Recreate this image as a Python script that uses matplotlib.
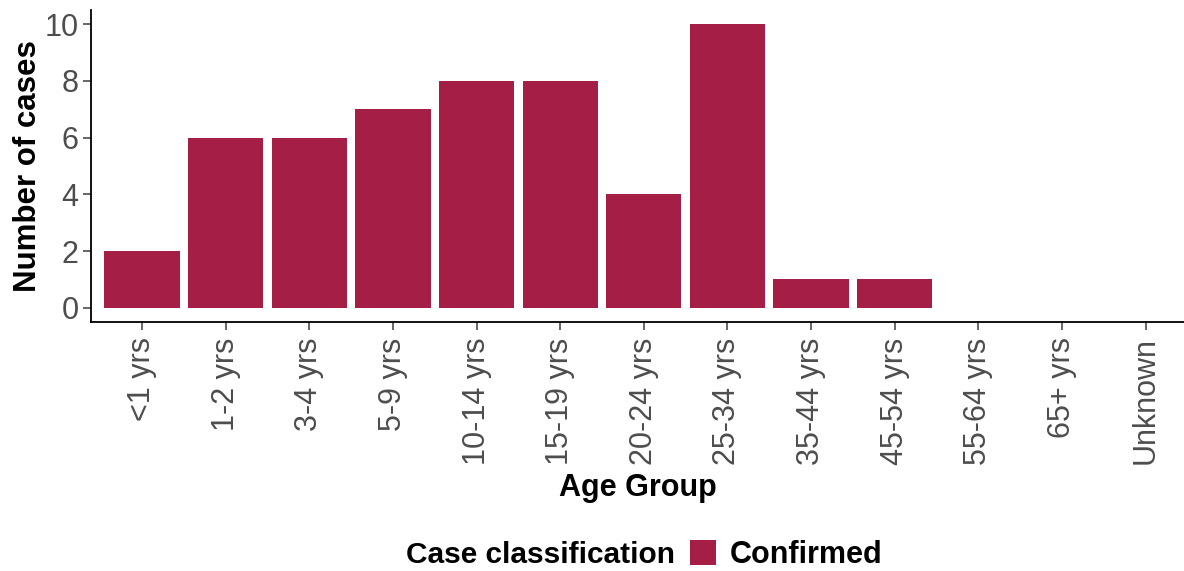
import matplotlib.pyplot as plt
from matplotlib.patches import Patch

plt.rcParams['font.family'] = ['Liberation Sans', 'DejaVu Sans']

age_groups = ['<1 yrs', '1-2 yrs', '3-4 yrs', '5-9 yrs', '10-14 yrs', '15-19 yrs',
              '20-24 yrs', '25-34 yrs', '35-44 yrs', '45-54 yrs', '55-64 yrs',
              '65+ yrs', 'Unknown']
cases = [2, 6, 6, 7, 8, 8, 4, 10, 1, 1, 0, 0, 0]
yticks = [0, 2, 4, 6, 8, 10]

bar_color = '#A51E45'
tick_color = '#4D4D4D'

fig = plt.figure(figsize=(11.84, 5.71), dpi=100)
ax = fig.add_axes([91 / 1184, 1 - 322 / 571, 1 - 91 / 1184, 312 / 571])

x = list(range(len(age_groups)))
ax.bar(x, cases, width=0.9, color=bar_color, linewidth=0)

ax.set_xlim(-0.61, 12.46)
ax.set_ylim(-0.5, 10.5)
ax.set_xticks(x)
ax.set_xticklabels(age_groups, rotation=90, va='top', ha='center')
ax.set_yticks(yticks)

for side in ['top', 'right']:
    ax.spines[side].set_visible(False)
for side in ['left', 'bottom']:
    ax.spines[side].set_linewidth(1.3)
    ax.spines[side].set_color('black')

ax.tick_params(axis='both', colors=tick_color, labelsize=22, length=6, width=1.2, pad=3)
ax.tick_params(axis='x', pad=5)

ax.set_ylabel('Number of cases', fontsize=22.5, fontweight='bold', labelpad=1)
ax.set_xlabel('Age Group', fontsize=22, fontweight='bold', labelpad=6)

fig.text(675 / 1184, 1 - 555 / 571, 'Case classification', fontsize=21.5,
         fontweight='bold', ha='right', va='center')
handles = [Patch(facecolor=bar_color, edgecolor='none', label='Confirmed')]
leg = fig.legend(handles=handles, loc='center left',
                 bbox_to_anchor=(684 / 1184, 1 - 555 / 571), frameon=False,
                 prop={'size': 22, 'weight': 'bold'}, handlelength=0.85,
                 handleheight=0.85, handletextpad=0.45, borderaxespad=0, borderpad=0.2)

fig.savefig('out.png', dpi=100)
